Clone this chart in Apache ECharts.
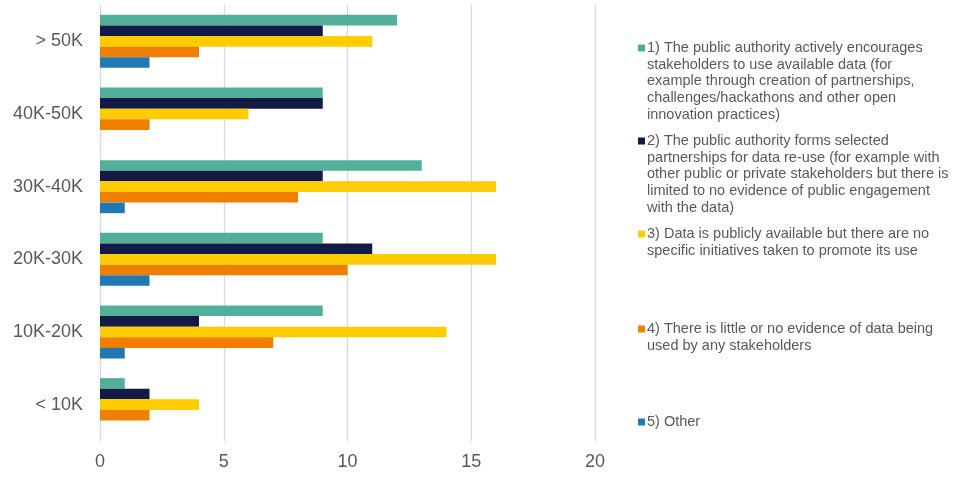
<!DOCTYPE html>
<html>
<head>
<meta charset="utf-8">
<script src="https://cdn.jsdelivr.net/npm/echarts@6/dist/echarts.min.js"></script>
<style>html,body{margin:0;padding:0;background:#fff}#c{width:957px;height:479px}</style>
</head>
<body>
<div id="c"></div>
<script>
const categories = ['< 10K', '10K-20K', '20K-30K', '30K-40K', '40K-50K', '> 50K'];
const seriesNames = [
  '1) The public authority actively encourages\nstakeholders to use available data (for\nexample through creation of partnerships,\nchallenges/hackathons and other open\ninnovation practices)',
  '2) The public authority forms selected\npartnerships for data re-use (for example with\nother public or private stakeholders but there is\nlimited to no evidence of public engagement\nwith the data)',
  '3) Data is publicly available but there are no\nspecific initiatives taken to promote its use',
  '4) There is little or no evidence of data being\nused by any stakeholders',
  '5) Other'
];
const s1 = [1, 9, 9, 13, 9, 12];
const s2 = [2, 4, 11, 9, 9, 9];
const s3 = [4, 14, 16, 16, 6, 11];
const s4 = [2, 7, 10, 8, 2, 4];
const s5 = [0, 1, 2, 1, 0, 2];
const xTicks = [0, 5, 10, 15, 20];

const colors = ['#52B09A', '#121A46', '#FFCC00', '#F07F00', '#2277B5'];
const values = [s1, s2, s3, s4, s5];
const legendTops = [48, 141, 234, 329, 422];
const lineH = 16.7;

const chart = echarts.init(document.getElementById('c'));
const series = values.map((v, i) => ({
  name: seriesNames[i],
  type: 'bar',
  data: v,
  barGap: '0%',
  barCategoryGap: '27%',
  itemStyle: { color: colors[i] },
  silent: true
}));

const graphic = [];
seriesNames.forEach((n, i) => {
  graphic.push({
    type: 'rect', left: 638, top: legendTops[i] - 3.5,
    shape: { width: 7, height: 7 }, style: { fill: colors[i] }
  });
  graphic.push({
    type: 'text', left: 647, top: legendTops[i] - lineH / 2,
    style: { text: n, fill: '#595959', font: '14.5px "Liberation Sans", Arial, sans-serif', lineHeight: lineH }
  });
});

chart.setOption({
  animation: false,
  color: colors,
  grid: { left: 100, right: 362, top: 5, bottom: 38, containLabel: false },
  xAxis: {
    type: 'value', min: xTicks[0], max: xTicks[xTicks.length - 1], interval: 5,
    axisLine: { show: false }, axisTick: { show: false },
    splitLine: { show: true, lineStyle: { color: '#D9D9D9', width: 1.3 } },
    axisLabel: { color: '#595959', fontSize: 18, fontFamily: '"Liberation Sans", Arial, sans-serif', margin: 12 }
  },
  yAxis: {
    type: 'category', data: categories,
    axisLine: { show: false }, axisTick: { show: false },
    axisLabel: { color: '#595959', fontSize: 18, fontFamily: '"Liberation Sans", Arial, sans-serif', margin: 17 }
  },
  legend: { show: false },
  series: series,
  graphic: graphic
});
</script>
</body>
</html>
